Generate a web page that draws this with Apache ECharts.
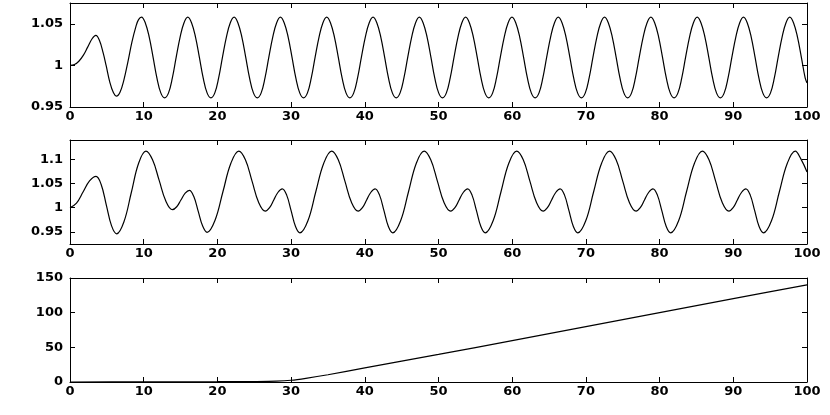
<!DOCTYPE html>
<html>
<head>
<meta charset="utf-8">
<script src="https://cdn.jsdelivr.net/npm/echarts@6/dist/echarts.min.js"></script>
<style>
  html, body { margin: 0; padding: 0; background: #fff; }
  #chart { width: 830px; height: 415px; }
</style>
</head>
<body>
<div id="chart"></div>
<script>
// x tick labels shared by all three panels
const xTicks = [0, 10, 20, 30, 40, 50, 60, 70, 80, 90, 100];

// panel 1 - steady oscillation (start-up, then one row per period)
const x1 = [0, 0.6, 1.2, 1.8, 2.4, 3.0, 3.5, 4.0, 4.5, 4.9, 5.4, 5.9, 6.3, 6.8, 7.3, 7.85, 8.4, 8.95, 9.3,
  9.70, 10.22, 10.75, 11.27, 11.79, 12.32, 12.84, 13.37, 13.89, 14.41, 14.94, 15.46,
  15.98, 16.50, 17.03, 17.55, 18.07, 18.60, 19.12, 19.65, 20.17, 20.69, 21.22, 21.74,
  22.27, 22.79, 23.32, 23.84, 24.36, 24.89, 25.41, 25.94, 26.46, 26.98, 27.51, 28.03,
  28.55, 29.07, 29.60, 30.12, 30.64, 31.17, 31.69, 32.22, 32.74, 33.26, 33.79, 34.31,
  34.83, 35.35, 35.88, 36.40, 36.92, 37.45, 37.97, 38.50, 39.02, 39.54, 40.07, 40.59,
  41.12, 41.64, 42.17, 42.69, 43.21, 43.74, 44.26, 44.79, 45.31, 45.83, 46.36, 46.88,
  47.40, 47.92, 48.45, 48.97, 49.49, 50.02, 50.54, 51.07, 51.59, 52.11, 52.64, 53.16,
  53.68, 54.20, 54.73, 55.25, 55.77, 56.30, 56.82, 57.35, 57.87, 58.39, 58.92, 59.44,
  59.97, 60.49, 61.02, 61.54, 62.06, 62.59, 63.11, 63.64, 64.16, 64.68, 65.21, 65.73,
  66.25, 66.77, 67.30, 67.82, 68.34, 68.87, 69.39, 69.92, 70.44, 70.96, 71.49, 72.01,
  72.53, 73.05, 73.58, 74.10, 74.62, 75.15, 75.67, 76.20, 76.72, 77.24, 77.77, 78.29,
  78.82, 79.34, 79.87, 80.39, 80.91, 81.44, 81.96, 82.49, 83.01, 83.53, 84.06, 84.58,
  85.10, 85.62, 86.15, 86.67, 87.19, 87.72, 88.24, 88.77, 89.29, 89.81, 90.34, 90.86,
  91.38, 91.90, 92.43, 92.95, 93.47, 94.00, 94.52, 95.05, 95.57, 96.09, 96.62, 97.14,
  97.66, 98.18, 98.71, 99.23, 99.75, 100];
const y1 = [1.000, 1.001, 1.005, 1.012, 1.022, 1.032, 1.036, 1.030, 1.015, 1.000, 0.980, 0.967, 0.963, 0.968, 0.982, 1.004, 1.028, 1.047, 1.055,
  1.058, 1.051, 1.034, 1.010, 0.985, 0.967, 0.961, 0.967, 0.985, 1.010, 1.034, 1.051,
  1.058, 1.051, 1.034, 1.010, 0.985, 0.967, 0.961, 0.967, 0.985, 1.010, 1.034, 1.051,
  1.058, 1.051, 1.034, 1.010, 0.985, 0.967, 0.961, 0.967, 0.985, 1.010, 1.034, 1.051,
  1.058, 1.051, 1.034, 1.010, 0.985, 0.967, 0.961, 0.967, 0.985, 1.010, 1.034, 1.051,
  1.058, 1.051, 1.034, 1.010, 0.985, 0.967, 0.961, 0.967, 0.985, 1.010, 1.034, 1.051,
  1.058, 1.051, 1.034, 1.010, 0.985, 0.967, 0.961, 0.967, 0.985, 1.010, 1.034, 1.051,
  1.058, 1.051, 1.034, 1.010, 0.985, 0.967, 0.961, 0.967, 0.985, 1.010, 1.034, 1.051,
  1.058, 1.051, 1.034, 1.010, 0.985, 0.967, 0.961, 0.967, 0.985, 1.010, 1.034, 1.051,
  1.058, 1.051, 1.034, 1.010, 0.985, 0.967, 0.961, 0.967, 0.985, 1.010, 1.034, 1.051,
  1.058, 1.051, 1.034, 1.010, 0.985, 0.967, 0.961, 0.967, 0.985, 1.010, 1.034, 1.051,
  1.058, 1.051, 1.034, 1.010, 0.985, 0.967, 0.961, 0.967, 0.985, 1.010, 1.034, 1.051,
  1.058, 1.051, 1.034, 1.010, 0.985, 0.967, 0.961, 0.967, 0.985, 1.010, 1.034, 1.051,
  1.058, 1.051, 1.034, 1.010, 0.985, 0.967, 0.961, 0.967, 0.985, 1.010, 1.034, 1.051,
  1.058, 1.051, 1.034, 1.010, 0.985, 0.967, 0.961, 0.967, 0.985, 1.010, 1.034, 1.051,
  1.058, 1.051, 1.034, 1.010, 0.985, 0.979];
const yTicks1 = [0.95, 1, 1.05];

// panel 2 - beating oscillation (start-up, then one row per long cycle)
const x2 = [0, 0.88, 1.77, 2.65, 3.53, 4.23, 4.93, 5.63, 6.33, 7.32, 8.32, 9.31,
  10.3, 11.2, 12.1, 13.0, 13.9, 14.48, 15.05, 15.63, 16.2, 16.8, 17.4, 18.0, 18.6, 19.68, 20.75, 21.83,
  22.9, 23.8, 24.7, 25.6, 26.5, 27.08, 27.65, 28.23, 28.8, 29.4, 30.0, 30.6, 31.2, 32.28, 33.35, 34.43,
  35.5, 36.4, 37.3, 38.2, 39.1, 39.68, 40.25, 40.83, 41.4, 42.0, 42.6, 43.2, 43.8, 44.86, 45.93, 46.99,
  48.05, 48.95, 49.85, 50.75, 51.65, 52.23, 52.8, 53.38, 53.95, 54.55, 55.15, 55.75, 56.35, 57.41, 58.48, 59.54,
  60.6, 61.5, 62.4, 63.3, 64.2, 64.78, 65.35, 65.93, 66.5, 67.1, 67.7, 68.3, 68.9, 69.98, 71.05, 72.13,
  73.2, 74.1, 75.0, 75.9, 76.8, 77.38, 77.95, 78.53, 79.1, 79.7, 80.3, 80.9, 81.5, 82.58, 83.65, 84.73,
  85.8, 86.7, 87.6, 88.5, 89.4, 89.98, 90.55, 91.13, 91.7, 92.3, 92.9, 93.5, 94.1, 95.18, 96.25, 97.33,
  98.4, 99.2, 100];
const y2 = [1.000, 1.0095, 1.0325, 1.0555, 1.065, 1.048, 1.0055, 0.963, 0.946, 0.971, 1.0315, 1.092,
  1.117, 1.099, 1.0565, 1.014, 0.996, 1.002, 1.016, 1.030, 1.036, 1.023, 0.9925, 0.962, 0.949, 0.974, 1.033, 1.092,
  1.117, 1.099, 1.055, 1.011, 0.993, 1.000, 1.016, 1.032, 1.039, 1.026, 0.994, 0.961, 0.948, 0.973, 1.033, 1.092,
  1.117, 1.099, 1.055, 1.011, 0.993, 1.000, 1.016, 1.032, 1.039, 1.026, 0.994, 0.961, 0.948, 0.973, 1.033, 1.092,
  1.117, 1.099, 1.055, 1.011, 0.993, 1.000, 1.016, 1.032, 1.039, 1.026, 0.994, 0.961, 0.948, 0.973, 1.033, 1.092,
  1.117, 1.099, 1.055, 1.011, 0.993, 1.000, 1.016, 1.032, 1.039, 1.026, 0.994, 0.961, 0.948, 0.973, 1.033, 1.092,
  1.117, 1.099, 1.055, 1.011, 0.993, 1.000, 1.016, 1.032, 1.039, 1.026, 0.994, 0.961, 0.948, 0.973, 1.033, 1.092,
  1.117, 1.099, 1.055, 1.011, 0.993, 1.000, 1.016, 1.032, 1.039, 1.026, 0.994, 0.961, 0.948, 0.973, 1.033, 1.092,
  1.117, 1.100, 1.074];
const yTicks2 = [0.95, 1, 1.05, 1.1];

// panel 3 - flat, then linear growth
const x3 = [0, 10, 20, 25, 28, 30, 32, 35, 40, 50, 60, 70, 80, 90, 100];
const y3 = [0, 0.2, 0.4, 0.7, 1.2, 2.5, 5.3, 10.5, 20.3, 39.8, 59.6, 79.8, 100.1, 120.2, 140];
const yTicks3 = [0, 50, 100, 150];

const panels = [
  { x: x1, y: y1, ticks: yTicks1, min: 0.95, max: 1.075, top: 3, smooth: 0.4 },
  { x: x2, y: y2, ticks: yTicks2, min: 0.925, max: 1.14, top: 140, smooth: 0.4 },
  { x: x3, y: y3, ticks: yTicks3, min: 0, max: 150, top: 278, smooth: 0.3 }
];

const black = "#000";
const labelFont = { fontFamily: "DejaVu Sans", fontSize: 13, fontWeight: "bold", color: black };

const grid = [], xAxis = [], yAxis = [], series = [];
panels.forEach(function (p, i) {
  grid.push({ left: 70, right: 23, top: p.top, height: 104 });
  // bottom + top x axes, left + right y axes: the box with inner ticks
  ["bottom", "top"].forEach(function (pos) {
    xAxis.push({
      type: "value", gridIndex: i, min: 0, max: 100, position: pos,
      axisLine: { show: true, onZero: false, lineStyle: { color: black, width: 1 } },
      axisTick: { show: true, inside: true, length: 5, customValues: xTicks, lineStyle: { color: black } },
      axisLabel: pos === "bottom"
        ? Object.assign({ margin: 3, customValues: xTicks }, labelFont)
        : { show: false },
      splitLine: { show: false }
    });
  });
  ["left", "right"].forEach(function (pos) {
    yAxis.push({
      type: "value", gridIndex: i, min: p.min, max: p.max, position: pos,
      axisLine: { show: true, onZero: false, lineStyle: { color: black, width: 1 } },
      axisTick: { show: true, inside: true, length: 5, customValues: p.ticks, lineStyle: { color: black } },
      axisLabel: pos === "left"
        ? Object.assign({ margin: 7, customValues: p.ticks }, labelFont)
        : { show: false },
      splitLine: { show: false }
    });
  });
  series.push({
    type: "line",
    xAxisIndex: i * 2,
    yAxisIndex: i * 2,
    data: p.x.map(function (v, k) { return [v, p.y[k]]; }),
    smooth: p.smooth,
    showSymbol: false,
    lineStyle: { color: black, width: 1.2 },
    silent: true
  });
});

const chart = echarts.init(document.getElementById("chart"));
chart.setOption({
  backgroundColor: "#fff",
  animation: false,
  grid: grid,
  xAxis: xAxis,
  yAxis: yAxis,
  series: series
});
</script>
</body>
</html>
